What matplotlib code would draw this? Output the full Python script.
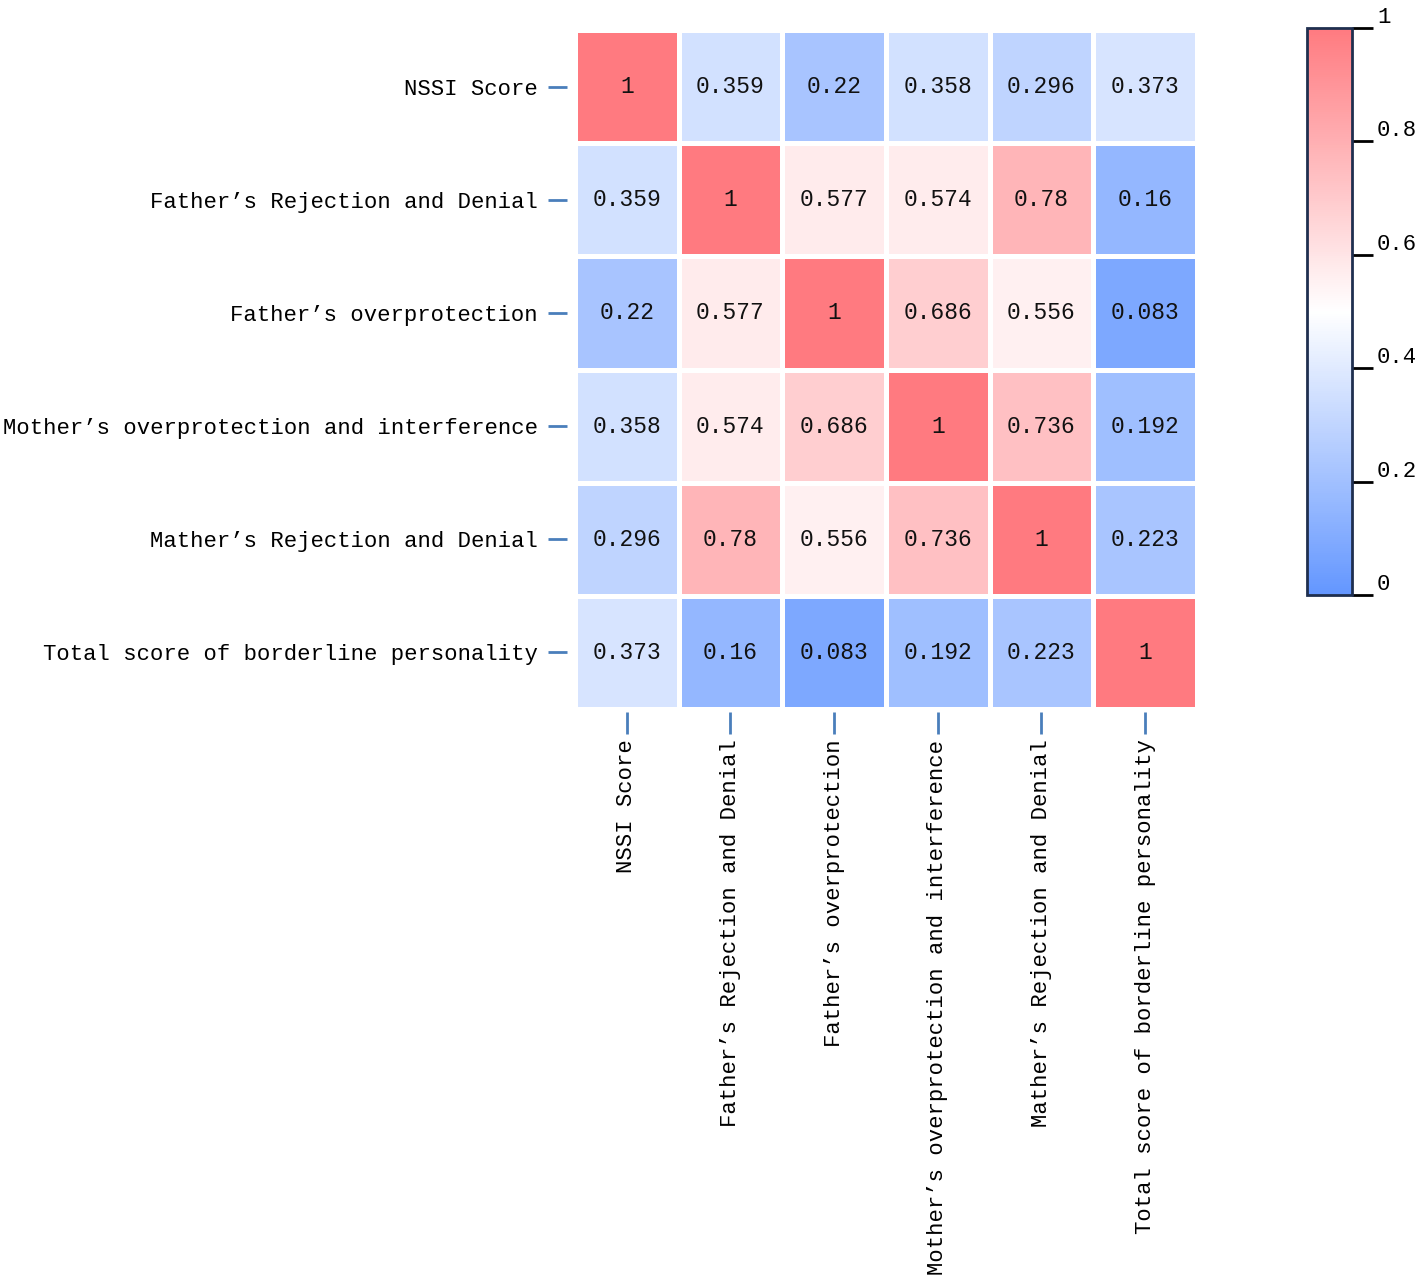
import numpy as np
import matplotlib
matplotlib.use("Agg")
import matplotlib.pyplot as plt
from matplotlib.colors import LinearSegmentedColormap

# variable names
labels = ["NSSI Score",
          "Father’s Rejection and Denial",
          "Father’s overprotection",
          "Mother’s overprotection and interference",
          "Mather’s Rejection and Denial",
          "Total score of borderline personality"]

# correlation matrix
r_nssi = [1, 0.359, 0.22, 0.358, 0.296, 0.373]
r_frd = [0.359, 1, 0.577, 0.574, 0.78, 0.16]
r_fop = [0.22, 0.577, 1, 0.686, 0.556, 0.083]
r_mop = [0.358, 0.574, 0.686, 1, 0.736, 0.192]
r_mrd = [0.296, 0.78, 0.556, 0.736, 1, 0.223]
r_bpd = [0.373, 0.16, 0.083, 0.192, 0.223, 1]

cbar_ticks = [0, 0.2, 0.4, 0.6, 0.8, 1]
cbar_ticklabels = ["0", "0.2", "0.4", "0.6", "0.8", "1"]

mat = np.array([r_nssi, r_frd, r_fop, r_mop, r_mrd, r_bpd])

plt.rcParams['font.family'] = ['Liberation Mono', 'DejaVu Sans Mono']
plt.rcParams['font.size'] = 16

cmap = LinearSegmentedColormap.from_list(
    "bwr_soft",
    [(0.0, (0.39, 0.59, 1.0)),
     (0.5, (1.0, 1.0, 1.0)),
     (1.0, (1.0, 0.48, 0.50))])

fig = plt.figure(figsize=(14.17, 12.85), dpi=100)
ax = fig.add_axes([0.4058, 0.4482, 0.4389, 0.5285])

n = len(labels)
mesh = ax.pcolormesh(np.arange(n + 1), np.arange(n + 1), mat, cmap=cmap,
                     vmin=0, vmax=1, edgecolors="white", linewidth=2.5)
ax.set_xlim(0, n)
ax.set_ylim(n, 0)

for i in range(n):
    for j in range(n):
        v = mat[i, j]
        txt = "1" if v == 1 else f"{v:g}"
        ax.text(j + 0.5, i + 0.5, txt, ha="center", va="center",
                fontsize=16.5, color="#111111")

for s in ax.spines.values():
    s.set_visible(False)
ax.spines['left'].set_position(('outward', 6))
ax.spines['bottom'].set_position(('outward', 2))

ax.set_xticks(np.arange(n) + 0.5)
ax.set_yticks(np.arange(n) + 0.5)
ax.set_xticklabels(labels, rotation=90, va="top")
ax.set_yticklabels(labels)
ax.tick_params(axis='both', color="#4a7ebb", width=2)
ax.tick_params(axis='x', length=16, pad=4)
ax.tick_params(axis='y', length=14, pad=7)

# colour bar
cax = fig.add_axes([0.9224, 0.537, 0.0318, 0.4412])
cb = fig.colorbar(mesh, cax=cax, ticks=cbar_ticks)
cb.set_ticklabels(cbar_ticklabels)
cb.outline.set_edgecolor("#1f2f4f")
cb.outline.set_linewidth(2)
cax.tick_params(length=15, width=2, color="black", labelsize=16, pad=3)
for t in cax.get_yticklabels():
    t.set_va("bottom")

fig.savefig("out.png", dpi=100)
